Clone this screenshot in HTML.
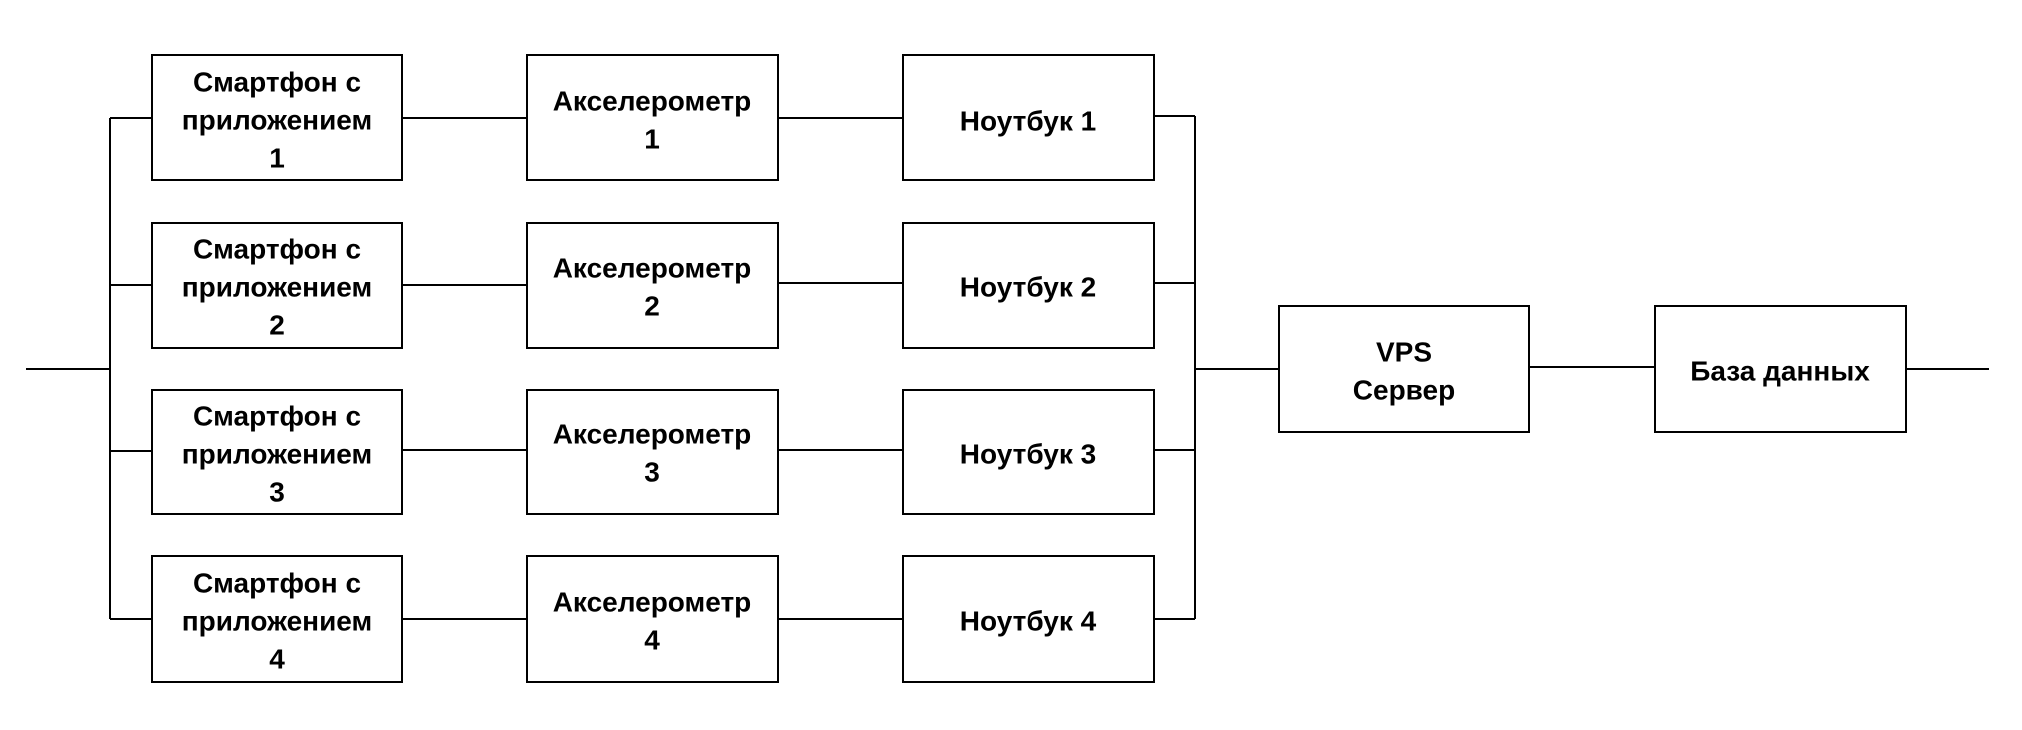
<!DOCTYPE html>
<html><head><meta charset="utf-8"><style>
html,body{margin:0;padding:0;background:#fff;width:2022px;height:730px;overflow:hidden}
svg text{font-family:"Liberation Sans",Arial,sans-serif;font-weight:bold;font-size:28px;fill:#000;text-anchor:middle;dominant-baseline:central}
</style></head><body>
<svg width="2022" height="730" viewBox="0 0 2022 730" xmlns="http://www.w3.org/2000/svg">
<g stroke="#000" stroke-width="2" fill="none">
<line x1="26" y1="369" x2="110" y2="369"/>
<line x1="110" y1="118" x2="110" y2="619"/>
<line x1="1195" y1="116" x2="1195" y2="619"/>
<line x1="1195" y1="369" x2="1279" y2="369"/>
<line x1="1529" y1="367" x2="1655" y2="367"/>
<line x1="1906" y1="369" x2="1989" y2="369"/>
<line x1="110" y1="118" x2="152" y2="118"/><line x1="402" y1="118" x2="527" y2="118"/><line x1="778" y1="118" x2="903" y2="118"/><line x1="1154" y1="116" x2="1195" y2="116"/>
<line x1="110" y1="285" x2="152" y2="285"/><line x1="402" y1="285" x2="527" y2="285"/><line x1="778" y1="283" x2="903" y2="283"/><line x1="1154" y1="283" x2="1195" y2="283"/>
<line x1="110" y1="451" x2="152" y2="451"/><line x1="402" y1="450" x2="527" y2="450"/><line x1="778" y1="450" x2="903" y2="450"/><line x1="1154" y1="450" x2="1195" y2="450"/>
<line x1="110" y1="619" x2="152" y2="619"/><line x1="402" y1="619" x2="527" y2="619"/><line x1="778" y1="619" x2="903" y2="619"/><line x1="1154" y1="619" x2="1195" y2="619"/>
<rect x="152" y="55" width="250" height="125"/><rect x="527" y="55" width="251" height="125"/><rect x="903" y="55" width="251" height="125"/>
<rect x="152" y="223" width="250" height="125"/><rect x="527" y="223" width="251" height="125"/><rect x="903" y="223" width="251" height="125"/>
<rect x="152" y="390" width="250" height="124"/><rect x="527" y="390" width="251" height="124"/><rect x="903" y="390" width="251" height="124"/>
<rect x="152" y="556" width="250" height="126"/><rect x="527" y="556" width="251" height="126"/><rect x="903" y="556" width="251" height="126"/>
<rect x="1279" y="306" width="250" height="126"/><rect x="1655" y="306" width="251" height="126"/>
</g>
<g>
<text x="277" y="82">Смартфон с</text><text x="277" y="120">приложением</text><text x="277" y="158">1</text>
<text x="277" y="249">Смартфон с</text><text x="277" y="287">приложением</text><text x="277" y="325">2</text>
<text x="277" y="416">Смартфон с</text><text x="277" y="454">приложением</text><text x="277" y="492">3</text>
<text x="277" y="583">Смартфон с</text><text x="277" y="621">приложением</text><text x="277" y="659">4</text>
<text x="652" y="101">Акселерометр</text><text x="652" y="139">1</text>
<text x="652" y="268">Акселерометр</text><text x="652" y="306">2</text>
<text x="652" y="434">Акселерометр</text><text x="652" y="472">3</text>
<text x="652" y="602">Акселерометр</text><text x="652" y="640">4</text>
<text x="1028" y="121">Ноутбук 1</text>
<text x="1028" y="287">Ноутбук 2</text>
<text x="1028" y="454">Ноутбук 3</text>
<text x="1028" y="621">Ноутбук 4</text>
<text x="1404" y="352">VPS</text><text x="1404" y="390">Сервер</text>
<text x="1780" y="371">База данных</text>
</g>
</svg>
</body></html>
